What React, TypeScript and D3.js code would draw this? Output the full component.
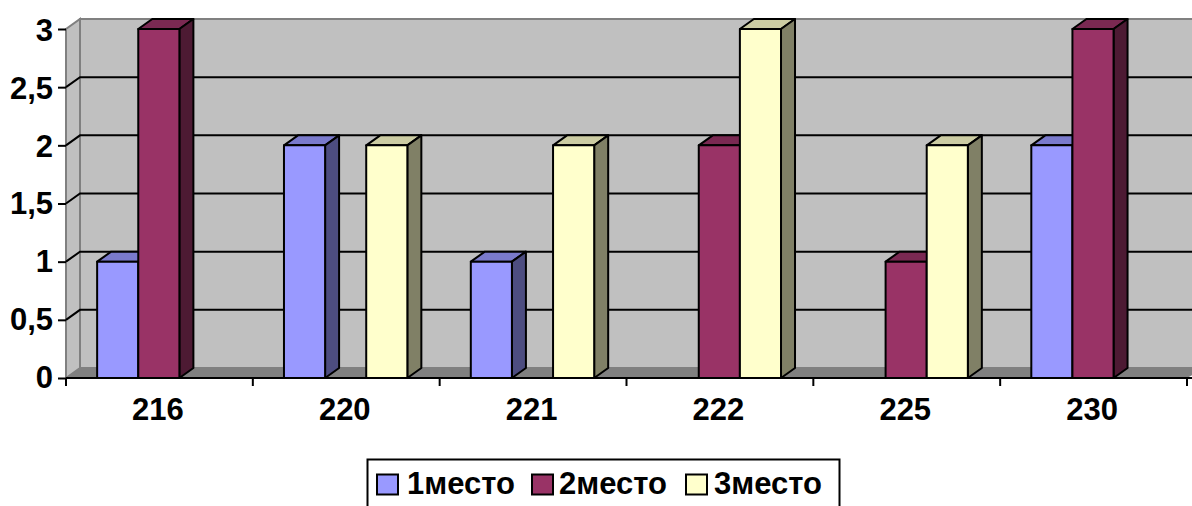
import React, { useEffect, useRef } from 'react';
import { axisBottom, axisLeft, format, scaleBand, scaleLinear, select } from 'd3';

const categories = ['216', '220', '221', '222', '225', '230'];
const seriesNames = ['1место', '2место', '3место'];
const place1 = [1, 2, 1, 0, 0, 2];
const place2 = [3, 0, 0, 2, 1, 3];
const place3 = [0, 2, 2, 3, 2, 0];
const seriesValues = [place1, place2, place3];
const yTicks = [0, 0.5, 1, 1.5, 2, 2.5, 3];

const fronts = ['#9999ff', '#993366', '#ffffcc'];
const tops = ['#7a7acc', '#7a2952', '#cccca3'];
const sides = ['#4d4d80', '#4d1a33', '#808066'];
const legendSwatchX = [377, 532, 686];
const legendTextX = [407, 559, 714];

const width = 1192;
const height = 506;
const depthX = 14;
const depthY = 10;
const font = '"Liberation Sans", Arial, sans-serif';

const xScale = scaleBand().domain(categories).range([66, 1187]);
const yScale = scaleLinear().domain([0, 3]).range([378, 29]);
// bars take up about two thirds of a category
const barScale = scaleBand()
  .domain(seriesNames)
  .range([xScale.bandwidth() / 6, xScale.bandwidth() * 0.827]);

const pts = (p: number[][]) => p.map(d => d.join(',')).join(' ');

export default function App() {
  const svgRef = useRef<SVGSVGElement>(null);

  useEffect(() => {
    const svg = select(svgRef.current);
    svg.selectAll('.axis').remove();

    const xAxis = axisBottom(xScale).tickSize(0);
    const yAxis = axisLeft(yScale)
      .tickValues(yTicks)
      .tickSize(8)
      .tickPadding(5)
      .tickFormat(d => format('')(d).replace('.', ','));

    const gy = svg
      .append('g')
      .attr('class', 'axis')
      .attr('transform', 'translate(66,0)')
      .call(yAxis);
    const gx = svg
      .append('g')
      .attr('class', 'axis')
      .attr('transform', 'translate(0,378)')
      .call(xAxis);

    // category separators sit on the band edges, not on the band centers
    gx.selectAll('.edge')
      .data(categories.concat(['end']))
      .join('line')
      .attr('class', 'edge')
      .attr('x1', (d, i) => 66 + i * xScale.bandwidth())
      .attr('x2', (d, i) => 66 + i * xScale.bandwidth())
      .attr('y1', 0)
      .attr('y2', 8)
      .attr('stroke', '#000')
      .attr('stroke-width', 2);

    gx.select('.domain').remove();
    gy.select('.domain').remove();
    svg.selectAll('.axis .tick line').attr('stroke', '#000').attr('stroke-width', 2);
    svg
      .selectAll('.axis text')
      .attr('fill', '#000')
      .style('font-family', font)
      .style('font-weight', 'bold')
      .style('font-size', '31px');
    // labels in the original are spaced a little tighter than the ticks
    gy.selectAll('text').attr('dy', (d: any) => 9 + (d / 3) * 2.5);
    gx.selectAll('.tick text').attr('x', -1.5).attr('y', 42).attr('dy', 0);
  }, []);

  const y0 = yScale(0);
  const y3 = yScale(3);

  return (
    <svg
      ref={svgRef}
      width={width}
      height={height}
      style={{ position: 'absolute', left: 0, top: 0, display: 'block' }}
    >
      <rect width={width} height={height} fill='#fff' />

      {/* walls */}
      <rect
        x={66 + depthX}
        y={y3 - depthY}
        width={width}
        height={y0 - y3}
        fill='#c0c0c0'
        stroke='#808080'
        strokeWidth={2}
      />
      <polygon
        points={pts([
          [66, y0],
          [66 + depthX, y0 - depthY],
          [66 + depthX, y3 - depthY],
          [66, y3],
        ])}
        fill='#c0c0c0'
        stroke='#808080'
        strokeWidth={2}
      />
      <polygon
        points={pts([
          [66, y0],
          [66 + depthX, y0 - depthY],
          [width + depthX, y0 - depthY],
          [1187, y0],
        ])}
        fill='#808080'
      />

      {/* gridlines */}
      {yTicks.slice(1, -1).map(t => (
        <polyline
          key={t}
          points={pts([
            [66, yScale(t)],
            [66 + depthX, yScale(t) - depthY],
            [width, yScale(t) - depthY],
          ])}
          fill='none'
          stroke='#000'
          strokeWidth={2}
        />
      ))}

      {/* bars */}
      {categories.map((c, i) =>
        seriesNames.map((s, k) => {
          const v = seriesValues[k][i];
          if (!v) return null;
          const x0 = (xScale(c) as number) + (barScale(s) as number);
          const x1 = x0 + barScale.bandwidth();
          const y = yScale(v);
          return (
            <g key={c + s} stroke='#000' strokeWidth={2} strokeLinejoin='round'>
              <polygon
                points={pts([
                  [x0, y],
                  [x0 + depthX, y - depthY],
                  [x1 + depthX, y - depthY],
                  [x1, y],
                ])}
                fill={tops[k]}
              />
              <polygon
                points={pts([
                  [x1, y],
                  [x1 + depthX, y - depthY],
                  [x1 + depthX, y0 - depthY],
                  [x1, y0],
                ])}
                fill={sides[k]}
              />
              <rect x={x0} y={y} width={x1 - x0} height={y0 - y} fill={fronts[k]} />
            </g>
          );
        }),
      )}

      <line x1={66} x2={width} y1={y0} y2={y0} stroke='#000' strokeWidth={2} />

      {/* legend, its box runs off the bottom of the picture */}
      <rect x={367.5} y={459.5} width={472} height={60} fill='#fff' stroke='#000' strokeWidth={2} />
      {seriesNames.map((s, k) => (
        <g key={s}>
          <rect
            x={legendSwatchX[k]}
            y={474.5}
            width={21}
            height={20}
            fill={fronts[k]}
            stroke='#000'
            strokeWidth={2}
          />
          <text
            x={legendTextX[k]}
            y={494}
            fontFamily={font}
            fontWeight='bold'
            fontSize={31}
            fill='#000'
          >
            {s}
          </text>
        </g>
      ))}
    </svg>
  );
}
